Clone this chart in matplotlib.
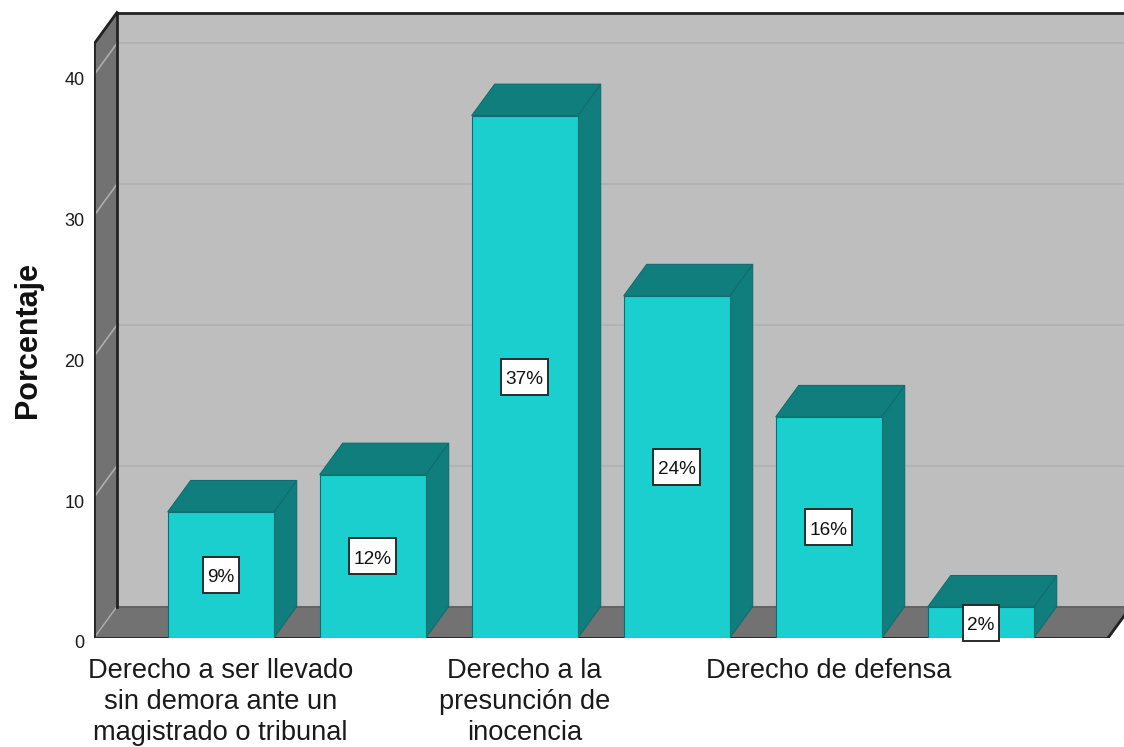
import matplotlib
matplotlib.use("Agg")
import matplotlib.pyplot as plt
from matplotlib.patches import Polygon
from matplotlib.path import Path
from matplotlib.transforms import ScaledTranslation

plt.rcParams['font.family'] = ['Liberation Sans', 'DejaVu Sans']

# data
categorias = ["Derecho a ser llevado\nsin demora ante un\nmagistrado o tribunal", "",
              "Derecho a la\npresunción de\ninocencia", "",
              "Derecho de defensa", ""]
valores = [8.95, 11.6, 37.1, 24.3, 15.7, 2.2]
etiquetas = ["9%", "12%", "37%", "24%", "16%", "2%"]
yticks = [0, 10, 20, 30, 40]

# colours
pared = "#BEBEBE"
lateral = "#727272"
rejilla = "#B0B0B0"
frente = "#1CCFCF"
sombra = "#117E7E"
borde = "#0E6E6E"
oscuro = "#222222"

W, H = 1124, 747
PX_X = 152.0     # px per category
PX_Y = 14.08     # px per percent
X0 = 220.7       # px of first category
x_izq, x_der = (94 - X0) / PX_X, (1124 - X0) / PX_X
y_top = (638 - 44) / PX_Y
dx, dy = 23 / PX_X, 31.5 / PX_Y   # depth of the 3d box
ancho = 106 / PX_X


def cara(ax, pts, color, ec="none", lw=0.0, z=1):
    ax.add_patch(Polygon(pts, closed=True, facecolor=color, edgecolor=ec,
                         linewidth=lw, zorder=z, clip_on=True))


def linea(ax, xs, ys, color=oscuro, lw=2.0, z=3):
    ax.plot(xs, ys, color=color, lw=lw, zorder=z, clip_on=True,
            solid_capstyle="projecting")


def caja(x0, y0, width, height, mutation_size):
    # label box: taller than the text, spss style
    cx, cy = x0 + width / 2, y0 + height / 2 + 3
    hw, hh = width / 2 + 4.5, 18
    return Path([(cx - hw, cy - hh), (cx + hw, cy - hh), (cx + hw, cy + hh),
                 (cx - hw, cy + hh), (cx - hw, cy - hh)], closed=True)


fig = plt.figure(figsize=(W / 100, H / 100), dpi=100)
ax = fig.add_axes([94 / W, (H - 638) / H, (1124 - 94) / W, (638 - 10) / H])
ax.set_xlim(x_izq, x_der)
ax.set_ylim(0, 628 / PX_Y)
ax.patch.set_visible(False)
for s in ax.spines.values():
    s.set_visible(False)

# walls and floor
cara(ax, [(x_izq + dx, dy), (x_der + dx, dy), (x_der + dx, y_top + dy), (x_izq + dx, y_top + dy)], pared)
cara(ax, [(x_izq, 0), (x_izq + dx, dy), (x_izq + dx, y_top + dy), (x_izq, y_top)], lateral)
x_fin = (1108 - X0) / PX_X
cara(ax, [(x_izq, 0), (x_fin, 0), (x_fin + dx, dy), (x_izq + dx, dy)], lateral)

for v in yticks[1:]:
    linea(ax, [x_izq + dx, x_der], [v + dy, v + dy], rejilla, 1.2, 2)
    linea(ax, [x_izq, x_izq + dx], [v, v + dy], "#ADADAD", 1.2, 2)
linea(ax, [x_izq, x_izq + dx], [0, dy], "#ADADAD", 1.0, 2)
linea(ax, [x_izq + dx, x_der], [dy, dy], "#636363", 1.4, 2)

linea(ax, [x_izq, x_izq], [0, y_top])
linea(ax, [x_izq, x_izq + dx], [y_top, y_top + dy])
linea(ax, [x_izq + dx, x_izq + dx], [dy, y_top + dy])
linea(ax, [x_izq + dx, x_der], [y_top + dy, y_top + dy])
linea(ax, [x_izq, x_fin], [0, 0])
linea(ax, [x_fin, x_fin + dx], [0, dy])

# bars
baja = ax.transData + ScaledTranslation(0, -3 / 100, fig.dpi_scale_trans)
for i, v in enumerate(valores):
    a, b = i - ancho / 2, i + ancho / 2
    cara(ax, [(b, 0), (b + dx, dy), (b + dx, v + dy), (b, v)], sombra, borde, 0.8, 4)
    cara(ax, [(a, v), (b, v), (b + dx, v + dy), (a + dx, v + dy)], sombra, borde, 0.8, 4)
    cara(ax, [(a, 0), (b, 0), (b, v), (a, v)], frente, borde, 0.8, 5)
    ax.text(i, v / 2, etiquetas[i], ha="center", va="center", fontsize=13.7, color="#111111",
            zorder=6, transform=baja, bbox=dict(boxstyle=caja, fc="white", ec="#2A2A2A", lw=1.4))

# axis labels
ax.set_yticks(yticks)
ax.set_xticks(range(len(categorias)))
ax.set_xticklabels(categorias, fontsize=19.6, color="#1A1A1A", linespacing=1.24)
ax.tick_params(axis="both", length=0)
ax.tick_params(axis="y", labelsize=13, pad=7, labelcolor="#1A1A1A")
ax.tick_params(axis="x", pad=14.7)
for t in ax.get_yticklabels():
    t.set_transform(t.get_transform() + ScaledTranslation(0, -4 / 100, fig.dpi_scale_trans))
fig.text(28 / W, 1 - 340.5 / H, "Porcentaje", rotation=90, ha="center", va="center",
         fontsize=22, fontweight="bold", color="#111111")

fig.savefig("out.png", dpi=100)
